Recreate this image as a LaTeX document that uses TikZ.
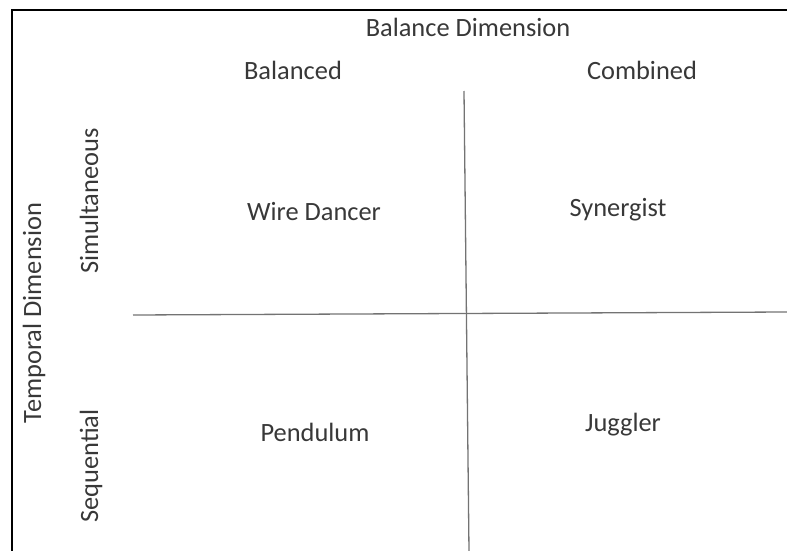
\documentclass[tikz,border=0pt]{standalone}
\usepackage{fontspec}
\setmainfont{Carlito}
\usetikzlibrary{positioning}

\begin{document}
\begin{tikzpicture}[x=1pt,y=-1pt,
    every node/.style={font=\fontsize{26.4}{30}\selectfont, text=black!78, inner sep=0pt},
    axisline/.style={black!55, line width=1.3pt},
    sidelabel/.style={rotate=90}]
    \useasboundingbox (0,0) rectangle (787,551);
    % frame (only top and left edges show)
    \draw[black, line width=2pt] (12,551) -- (12,10) -- (787,10);
    % quadrant lines
    \coordinate (vtop) at (464,91);
    \coordinate (vbot) at (469,551);
    \coordinate (hleft) at (133,315);
    \coordinate (hright) at (787,312);
    \draw[axisline] (vtop) -- (vbot);
    \draw[axisline] (hleft) -- (hright);
    % column headings
    \node (baldim) at (468,27) {Balance Dimension};
    \node (bal) at (293,70) {Balanced};
    \node (comb) at (642,70) {Combined};
    % row headings
    \node[sidelabel] (tempdim) at (34,313) {Temporal Dimension};
    \node[sidelabel] (simul) at (89,201) {Simultaneous};
    \node[sidelabel] (seq) at (91,466) {Sequential};
    % quadrants
    \node (wire) at (314,212) {Wire Dancer};
    \node (syn) at (618,210) {Synergist};
    \node (pend) at (315,432) {Pendulum};
    \node (jug) at (623,425) {Juggler};
\end{tikzpicture}
\end{document}
